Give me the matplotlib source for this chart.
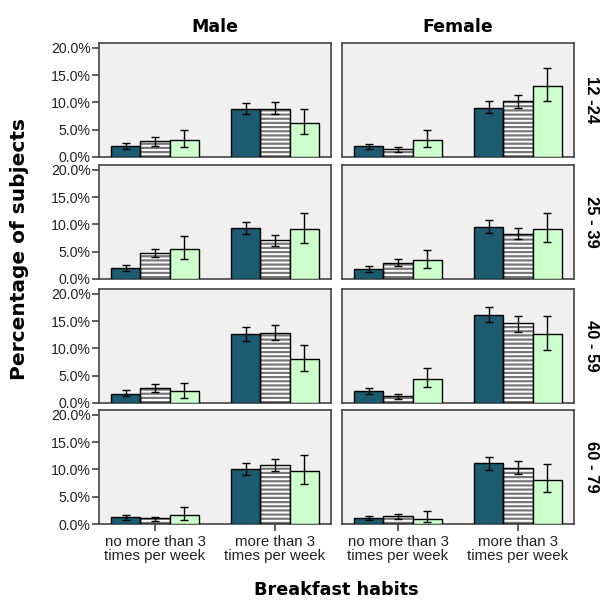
import matplotlib.pyplot as plt
import numpy as np

plt.rcParams['hatch.linewidth'] = 1.6

sexes = ["Male", "Female"]
ages = ["12 -24", "25 - 39", "40 - 59", "60 - 79"]
habits = ["no more than 3\ntimes per week", "more than 3\ntimes per week"]

# values[age][sex][habit] -> three bars (dark, striped, green), in %
values = [
    [[[2.1, 2.9, 3.2], [8.75, 8.8, 6.2]],
     [[1.95, 1.4, 3.1], [9.05, 10.3, 13.1]]],
    [[[2.0, 4.7, 5.5], [9.3, 7.1, 9.1]],
     [[1.8, 3.0, 3.4], [9.6, 8.3, 9.1]]],
    [[[1.7, 2.7, 2.2], [12.7, 12.9, 8.0]],
     [[2.2, 1.2, 4.4], [16.1, 14.6, 12.7]]],
    [[[1.2, 1.05, 1.7], [10.0, 10.8, 9.8]],
     [[1.05, 1.4, 1.0], [11.1, 10.3, 8.1]]],
]
ci_low = [
    [[[1.5, 2.1, 1.8], [7.8, 7.8, 4.3]],
     [[1.5, 1.0, 1.8], [8.0, 9.0, 10.3]]],
    [[[1.4, 4.0, 3.6], [8.2, 6.0, 6.6]],
     [[1.3, 2.3, 2.0], [8.5, 7.3, 6.75]]],
    [[[1.2, 2.1, 1.0], [11.4, 11.6, 5.9]],
     [[1.7, 0.7, 2.9], [14.8, 13.1, 9.8]]],
    [[[0.7, 0.55, 0.7], [8.9, 9.7, 7.4]],
     [[0.7, 0.9, 0.3], [9.9, 9.2, 5.9]]],
]
ci_high = [
    [[[2.6, 3.6, 5.0], [9.9, 10.0, 8.75]],
     [[2.4, 1.9, 5.0], [10.2, 11.4, 16.3]]],
    [[[2.5, 5.5, 7.8], [10.4, 8.0, 12.05]],
     [[2.3, 3.7, 5.4], [10.8, 9.4, 12.1]]],
    [[[2.3, 3.4, 3.7], [14.0, 14.3, 10.7]],
     [[2.75, 1.6, 6.5], [17.55, 15.9, 15.9]]],
    [[[1.6, 1.35, 3.1], [11.2, 11.9, 12.7]],
     [[1.4, 1.9, 2.3], [12.2, 11.5, 11.0]]],
]

colors = ["#1c5b70", "white", "#ccffcc"]
hatches = [None, "----", None]

W, H = 602, 601
fig = plt.figure(figsize=(W / 100, H / 100), dpi=100)

lefts = [99, 342]
widths = 232
tops = [43, 165, 289, 410]
height = 114

label_font = "DejaVu Sans"
tick_font = "Liberation Sans"

x = np.arange(len(habits))
bw = 0.244
offsets = [-bw, 0, bw]

for r in range(len(ages)):
    for c in range(len(sexes)):
        ax = fig.add_axes([lefts[c] / W, 1 - (tops[r] + height) / H, widths / W, height / H])
        ax.set_facecolor("#f0f0f0")
        for k in range(3):
            v = np.array([values[r][c][h][k] for h in range(2)])
            lo = np.array([ci_low[r][c][h][k] for h in range(2)])
            hi = np.array([ci_high[r][c][h][k] for h in range(2)])
            if hatches[k]:
                ax.bar(x + offsets[k], v, bw, color=colors[k], edgecolor="#777777",
                       hatch=hatches[k], linewidth=0, zorder=2)
                ax.bar(x + offsets[k], v, bw, fill=False, edgecolor="black",
                       linewidth=1.0, zorder=3)
            else:
                ax.bar(x + offsets[k], v, bw, color=colors[k], edgecolor="black",
                       linewidth=1.0, zorder=3)
            ax.errorbar(x + offsets[k], v, yerr=[v - lo, hi - v], fmt="none",
                        ecolor="black", elinewidth=1.0, capsize=3, capthick=1.0, zorder=4)
        ax.set_xlim(-0.467, 1.467)
        ax.set_ylim(0, 20.9)
        for s in ax.spines.values():
            s.set_color("#444444")
            s.set_linewidth(1.2)
        if c == 0:
            ax.set_yticks([0, 5, 10, 15, 20])
            ax.set_yticklabels(["0.0%", "5.0%", "10.0%", "15.0%", "20.0%"],
                               fontsize=10.2, family=tick_font, color="#222222")
            ax.tick_params(axis="y", length=5, width=1.2, color="#444444", pad=1)
        else:
            ax.set_yticks([])
        if r == len(ages) - 1:
            ax.set_xticks(x)
            ax.set_xticklabels(habits, fontsize=10.8, family=tick_font,
                               color="#222222", linespacing=0.95)
            ax.tick_params(axis="x", length=5, width=1.2, color="#444444", pad=3)
        else:
            ax.set_xticks([])
        if r == 0:
            ax.set_title(sexes[c], fontsize=12.5, fontweight="bold",
                         family=label_font, pad=8)
        if c == 1:
            ax.text(1.075, 0.5, ages[r], transform=ax.transAxes, rotation=270,
                    ha="center", va="center", fontsize=12, fontweight="bold",
                    family=tick_font)

fig.text(20 / W, 1 - 249 / H, "Percentage of subjects", rotation=90,
         ha="center", va="center", fontsize=14.5, fontweight="bold", family=label_font)
fig.text(336 / W, 1 - 590 / H, "Breakfast habits", ha="center", va="center",
         fontsize=12.7, fontweight="bold", family=label_font)

fig.savefig("out.png", dpi=100, facecolor="white")
